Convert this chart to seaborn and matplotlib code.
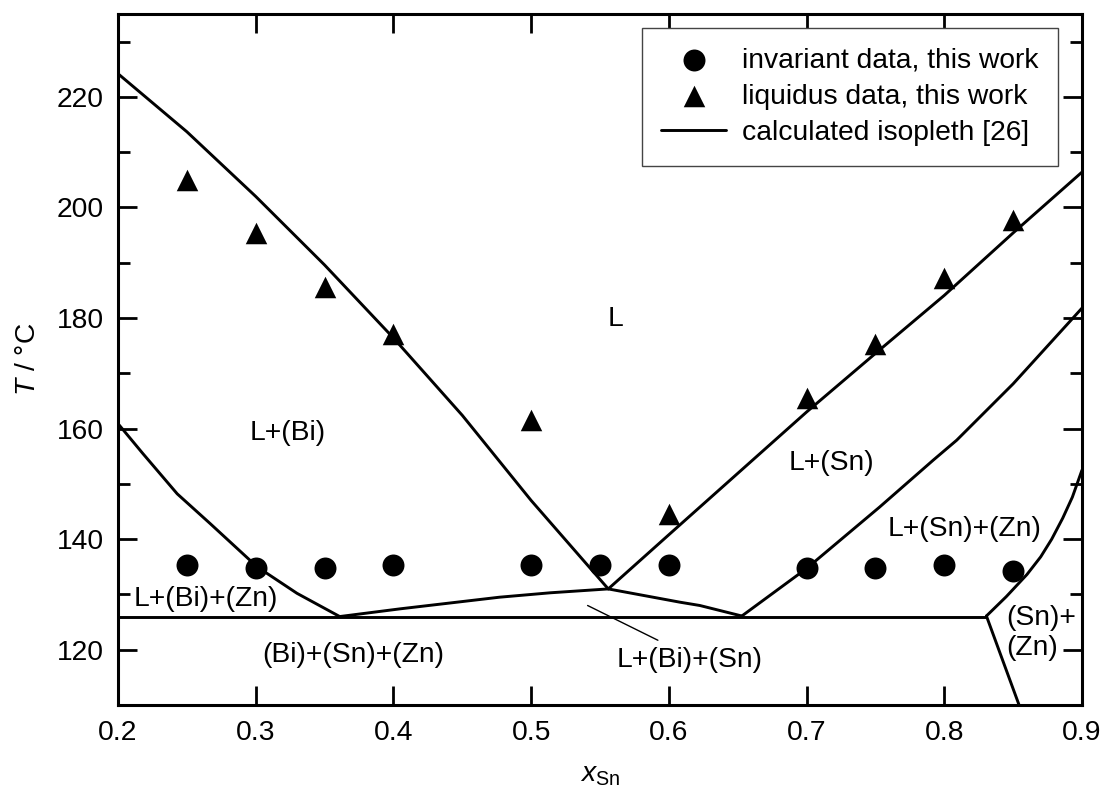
import numpy as np
import pandas as pd
import matplotlib
matplotlib.use("Agg")
import matplotlib.pyplot as plt
from matplotlib.ticker import MultipleLocator
import seaborn as sns

inv_x = [0.25, 0.30, 0.35, 0.40, 0.50, 0.55, 0.60, 0.70, 0.75, 0.80, 0.85]
inv_T = [135.3, 134.8, 134.8, 135.3, 135.3, 135.3, 135.3, 134.8, 134.8, 135.3, 134.2]

liq_x = [0.25, 0.30, 0.35, 0.40, 0.50, 0.60, 0.70, 0.75, 0.80, 0.85]
liq_T = [204.9, 195.4, 185.7, 177.2, 161.6, 144.6, 165.6, 175.3, 187.3, 197.8]

# calculated isopleth, one list pair per boundary
liq_bi_x = [0.2, 0.25, 0.30, 0.35, 0.40, 0.45, 0.50, 0.556]
liq_bi_T = [224.2, 213.7, 202.0, 189.6, 176.4, 162.4, 147.0, 131.0]

bi_zn_x = [0.2, 0.218, 0.243, 0.267, 0.301, 0.330, 0.361]
bi_zn_T = [160.9, 155.5, 148.2, 142.8, 135.0, 130.2, 126.0]

bi_sn_x = [0.361, 0.405, 0.477, 0.514, 0.556, 0.608, 0.6225, 0.653]
bi_sn_T = [126.0, 127.4, 129.5, 130.3, 131.0, 128.6, 128.0, 126.1]

liq_sn_x = [0.556, 0.60, 0.65, 0.70, 0.75, 0.80, 0.85, 0.90]
liq_sn_T = [131.0, 140.8, 151.9, 163.0, 173.6, 184.1, 195.4, 206.4]

sn_zn_x = [0.653, 0.700, 0.753, 0.792, 0.809, 0.850, 0.90]
sn_zn_T = [126.1, 134.7, 145.8, 154.3, 157.9, 168.1, 181.8]

solv_x = [0.8306, 0.845, 0.860, 0.870, 0.878, 0.886, 0.893, 0.90]
solv_T = [126.1, 129.6, 133.6, 136.8, 140.0, 143.8, 147.6, 152.5]

eut_x = [0.2, 0.8306]
eut_T = [126.0, 126.0]

snzn_x = [0.8306, 0.8543]
snzn_T = [126.1, 110.0]

curves = [(liq_bi_x, liq_bi_T), (bi_zn_x, bi_zn_T), (bi_sn_x, bi_sn_T),
          (liq_sn_x, liq_sn_T), (sn_zn_x, sn_zn_T), (solv_x, solv_T),
          (eut_x, eut_T), (snzn_x, snzn_T)]

sns.set_style("ticks")
plt.rcParams['font.family'] = ['Liberation Sans', 'DejaVu Sans']
plt.rcParams['mathtext.fontset'] = 'custom'
plt.rcParams['mathtext.rm'] = 'Liberation Sans'
plt.rcParams['mathtext.it'] = 'Liberation Sans:italic'
for key in ['text.color', 'axes.labelcolor', 'xtick.color', 'ytick.color', 'axes.edgecolor']:
    plt.rcParams[key] = 'black'
fs = 20.3

fig = plt.figure(figsize=(11.03, 7.91), dpi=100)
ax = fig.add_axes([118 / 1103, 1 - 705 / 791, 964 / 1103, 691 / 791])

for i, (cx, cy) in enumerate(curves):
    sns.lineplot(x=cx, y=cy, color='black', lw=2.1, sort=False, estimator=None,
                 ax=ax, label='calculated isopleth [26]' if i == 0 else None)

sns.scatterplot(x=inv_x, y=inv_T, marker='o', s=250, color='black', linewidth=0,
                ax=ax, label='invariant data, this work', zorder=3)
sns.scatterplot(x=liq_x, y=liq_T, marker='^', s=240, color='black', linewidth=0,
                ax=ax, label='liquidus data, this work', zorder=3)

# Beschriftung der Phasenfelder
labels = [("L", 0.5615, 179.9), ("L+(Bi)", 0.323, 159.2), ("L+(Bi)+(Zn)", 0.264, 129.2),
          ("(Bi)+(Sn)+(Zn)", 0.371, 119.0), ("L+(Sn)", 0.718, 153.7),
          ("L+(Sn)+(Zn)", 0.815, 141.9)]
for txt, tx, ty in labels:
    ax.text(tx, ty, txt, fontsize=fs, ha='center', va='center')
ax.text(0.845, 123.0, "(Sn)+\n(Zn)", fontsize=fs, ha='left', va='center', linespacing=1.2)
ax.annotate("L+(Bi)+(Sn)", xy=(0.541, 128.0), xytext=(0.615, 118.1), fontsize=fs,
            ha='center', va='center',
            arrowprops=dict(arrowstyle='-', color='black', lw=1, relpos=(0.38, 1.0),
                            shrinkA=6, shrinkB=0))

ax.set_xlim(0.2, 0.9)
ax.set_ylim(110, 235)
ax.yaxis.set_minor_locator(MultipleLocator(10))
ax.set_xticks(np.arange(0.2, 0.91, 0.1))
ax.set_xticklabels([f"{v:.1f}" for v in np.arange(0.2, 0.91, 0.1)])
ax.set_yticks(np.arange(120, 221, 20))
ax.set_yticklabels([str(v) for v in range(120, 221, 20)])
ax.tick_params(which='both', direction='in', top=True, right=True, width=2, labelsize=fs)
ax.tick_params(which='major', length=14)
ax.tick_params(which='minor', length=8.5)
ax.tick_params(axis='x', pad=11)
ax.tick_params(axis='y', pad=10)
for sp in ax.spines.values():
    sp.set_linewidth(2.2)

ax.set_xlabel(r'$x_{\mathrm{Sn}}$', fontsize=fs)
ax.set_ylabel(r'$T$ / °C', fontsize=fs)
ax.xaxis.set_label_coords(0.5, -0.082)
ax.yaxis.set_label_coords(-0.080, 0.5)

handles, lbls = ax.get_legend_handles_labels()
order = ['invariant data, this work', 'liquidus data, this work', 'calculated isopleth [26]']
hmap = dict(zip(lbls, handles))
leg = ax.legend([hmap[k] for k in order], order, loc='upper right',
                bbox_to_anchor=(0.975, 0.98), borderaxespad=0, fontsize=fs,
                frameon=True, fancybox=False, framealpha=1, edgecolor='#444444',
                handlelength=2.3, handletextpad=0.55, labelspacing=0.36, borderpad=0.7)
leg.get_frame().set_linewidth(1.0)

fig.savefig("out.png", dpi=100)
